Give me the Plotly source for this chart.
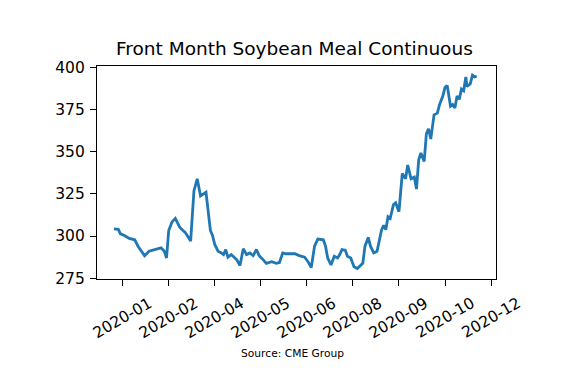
import plotly.graph_objects as go

dates = [
    "2020-01-02", "2020-01-06", "2020-01-08", "2020-01-12", "2020-01-16", "2020-01-21",
    "2020-01-24", "2020-01-27", "2020-01-30", "2020-02-03", "2020-02-08", "2020-02-14",
    "2020-02-17", "2020-02-19", "2020-02-21", "2020-02-24", "2020-02-27", "2020-03-02",
    "2020-03-05", "2020-03-07", "2020-03-09", "2020-03-12", "2020-03-15", "2020-03-18",
    "2020-03-21", "2020-03-23", "2020-03-26", "2020-03-30", "2020-04-01", "2020-04-03",
    "2020-04-06", "2020-04-09", "2020-04-11", "2020-04-13", "2020-04-15", "2020-04-18",
    "2020-04-21", "2020-04-23", "2020-04-26", "2020-04-29", "2020-05-02", "2020-05-05",
    "2020-05-08", "2020-05-11", "2020-05-13", "2020-05-14", "2020-05-17", "2020-05-20",
    "2020-05-25", "2020-05-29", "2020-06-01", "2020-06-04", "2020-06-07", "2020-06-10",
    "2020-06-15", "2020-06-19", "2020-06-24", "2020-06-27", "2020-06-30", "2020-07-03",
    "2020-07-06", "2020-07-11", "2020-07-13", "2020-07-15", "2020-07-18", "2020-07-21",
    "2020-07-24", "2020-07-26", "2020-07-28", "2020-07-31", "2020-08-02", "2020-08-05",
    "2020-08-08", "2020-08-11", "2020-08-14", "2020-08-16", "2020-08-18", "2020-08-21",
    "2020-08-23", "2020-08-26", "2020-08-29", "2020-08-31", "2020-09-02", "2020-09-04",
    "2020-09-06", "2020-09-08", "2020-09-10", "2020-09-13", "2020-09-15", "2020-09-18",
    "2020-09-21", "2020-09-24", "2020-09-26", "2020-09-29", "2020-10-02", "2020-10-04",
    "2020-10-06", "2020-10-08", "2020-10-11", "2020-10-13", "2020-10-15", "2020-10-17",
    "2020-10-20", "2020-10-23", "2020-10-25", "2020-10-28", "2020-10-30", "2020-11-01",
    "2020-11-03", "2020-11-04", "2020-11-06", "2020-11-08", "2020-11-10", "2020-11-12",
    "2020-11-14", "2020-11-16", "2020-11-18", "2020-11-19", "2020-11-22", "2020-11-24",
    "2020-11-26", "2020-11-28",
]

prices = [
    304.3, 304.0, 301.3, 300.2, 298.6, 297.8,
    294.0, 291.0, 288.3, 291.0, 292.0, 293.0,
    291.0, 287.0, 303.3, 308.4, 310.5, 305.3,
    303.3, 302.2, 300.2, 297.0, 326.8, 334.0,
    323.8, 324.5, 326.0, 303.3, 300.2, 295.0,
    291.0, 290.0, 289.0, 292.0, 287.5, 289.0,
    287.0, 286.0, 282.5, 292.5, 289.0, 290.0,
    288.4, 292.0, 289.0, 288.0, 286.0, 283.8,
    284.8, 283.8, 284.3, 290.0, 289.5, 289.5,
    289.5, 288.4, 287.5, 284.8, 281.3, 294.0,
    298.2, 297.8, 294.0, 287.0, 282.8, 288.0,
    287.0, 289.0, 292.0, 291.6, 288.0, 287.0,
    281.8, 280.7, 282.8, 283.8, 294.0, 299.2,
    294.0, 290.0, 291.0, 298.2, 303.3, 306.4,
    303.8, 311.5, 310.5, 318.7, 319.7, 314.5,
    337.1, 334.0, 342.2, 334.0, 335.0, 327.9,
    345.3, 349.4, 344.3, 360.7, 363.7, 357.6,
    372.0, 373.0, 378.1, 383.2, 388.3, 389.4,
    382.2, 377.1, 378.1, 376.1, 383.2, 381.2,
    387.3, 386.3, 394.5, 388.8, 390.4, 395.5,
    394.5, 394.9,
]

tick_dates = ["2020-01-10", "2020-02-21", "2020-04-03", "2020-05-15", "2020-06-26",
              "2020-08-07", "2020-09-18", "2020-10-30", "2020-12-11"]
tick_labels = ["2020-01", "2020-02", "2020-04", "2020-05", "2020-06",
               "2020-08", "2020-09", "2020-10", "2020-12"]
y_ticks = [275, 300, 325, 350, 375, 400]

title_text = "Front Month Soybean Meal Continuous"
source_text = "Source: CME Group"

FONT = "DejaVu Sans"

fig = go.Figure()
fig.add_trace(go.Scatter(
    x=dates, y=prices, mode="lines",
    line=dict(color="#1f77b4", width=2.8),
    showlegend=False,
))

annotations = []
for d, lab in zip(tick_dates, tick_labels):
    annotations.append(dict(
        x=d, y=0, xref="x", yref="paper", text=lab, showarrow=False,
        textangle=-30, xanchor="center", yanchor="middle", yshift=-39,
        font=dict(family=FONT, size=15.5, color="black"),
    ))
annotations.append(dict(
    x=0.49, y=0, xref="paper", yref="paper", text=source_text, showarrow=False,
    xanchor="center", yanchor="middle", yshift=-74,
    font=dict(family=FONT, size=10.7, color="black"),
))
annotations.append(dict(
    x=0.495, y=1, xref="paper", yref="paper", text=title_text, showarrow=False,
    xanchor="center", yanchor="middle", yshift=18,
    font=dict(family=FONT, size=18.5, color="black"),
))

fig.update_layout(
    width=554, height=362,
    margin=dict(l=89, r=66, t=58, b=91, pad=0),
    paper_bgcolor="white", plot_bgcolor="white",
    font=dict(family=FONT, color="black"),
    annotations=annotations,
    xaxis=dict(
        type="date",
        range=["2019-12-17 14:00", "2020-12-15 12:00"],
        tickvals=tick_dates, showticklabels=False,
        ticks="outside", ticklen=6, tickwidth=1.2, tickcolor="black",
        showline=True, linecolor="black", linewidth=1.2, mirror=True,
        showgrid=False, zeroline=False,
    ),
    yaxis=dict(
        range=[274.5, 401],
        tickvals=y_ticks, ticktext=[str(v) for v in y_ticks],
        ticks="outside", ticklen=6, tickwidth=1.2, tickcolor="black",
        tickfont=dict(family=FONT, size=15.5, color="black"),
        ticklabelstandoff=2,
        showline=True, linecolor="black", linewidth=1.2, mirror=True,
        showgrid=False, zeroline=False,
    ),
)

fig.write_html("out.html")
